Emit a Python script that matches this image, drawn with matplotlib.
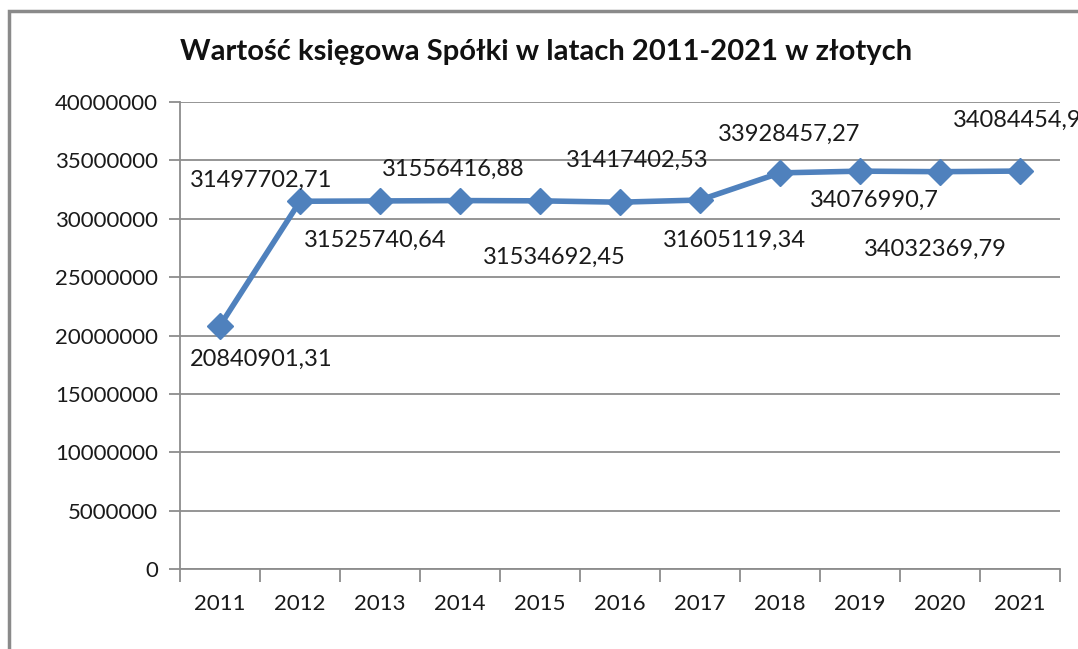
import matplotlib.pyplot as plt
from matplotlib.patches import Rectangle
from matplotlib.ticker import FixedLocator, NullFormatter, FixedFormatter

years = ["2011", "2012", "2013", "2014", "2015", "2016",
         "2017", "2018", "2019", "2020", "2021"]
values = [20840901.31, 31497702.71, 31525740.64, 31556416.88, 31534692.45,
          31417402.53, 31605119.34, 33928457.27, 34076990.7, 34032369.79,
          34084454.9]
labels = ["20840901,31", "31497702,71", "31525740,64", "31556416,88",
          "31534692,45", "31417402,53", "31605119,34", "33928457,27",
          "34076990,7", "34032369,79", "34084454,9"]
# label placement relative to each point, in pixels (dx, dy)
label_offsets = [(41, -34), (-39, 21), (-5, -39), (-7, 31), (14, -57),
                 (17, 42), (34, -40), (9, 39), (14, -29), (-5, -78),
                 (-3, 51)]

plt.rcParams["font.family"] = ["Lato", "DejaVu Sans"]

fig = plt.figure(figsize=(10.78, 6.49), dpi=100)
ax = fig.add_axes([180 / 1078, 1 - 569 / 649, 880 / 1078, 467 / 649])

x = list(range(len(years)))
ax.plot(x, values, color="#4F81BD", lw=4, marker="D", ms=13,
        markeredgecolor="#4F81BD", zorder=3, clip_on=False)

for i, (v, lab) in enumerate(zip(values, labels)):
    dx, dy = label_offsets[i]
    ax.annotate(lab, (i, v), xytext=(dx, dy), textcoords="offset pixels",
                ha="center", va="center", fontsize=17, color="#1a1a1a",
                annotation_clip=False)

ax.set_ylim(0, 40000000)
ax.set_xlim(-0.5, len(years) - 0.5)
ax.set_yticks(range(0, 40000001, 5000000))
ax.set_yticklabels([str(t) for t in range(0, 40000001, 5000000)])
ax.yaxis.grid(True, color="#8c8c8c", lw=1.3)
ax.set_axisbelow(True)

ax.xaxis.set_major_locator(FixedLocator([i - 0.5 for i in range(len(years) + 1)]))
ax.xaxis.set_major_formatter(NullFormatter())
ax.xaxis.set_minor_locator(FixedLocator(x))
ax.xaxis.set_minor_formatter(FixedFormatter(years))
ax.tick_params(axis="x", which="major", length=9, width=1.3, color="#8c8c8c",
               direction="out")
ax.tick_params(axis="x", which="minor", length=0, pad=18, labelsize=16,
               labelcolor="#1a1a1a")
ax.tick_params(axis="y", length=8, width=1.3, color="#8c8c8c", pad=8,
               labelsize=16, labelcolor="#1a1a1a")

for side in ["top", "right"]:
    ax.spines[side].set_visible(False)
for side in ["left", "bottom"]:
    ax.spines[side].set_color("#8c8c8c")
    ax.spines[side].set_linewidth(1.3)

fig.text(546 / 1078, 1 - 52 / 649,
         "Wartość księgowa Spółki w latach 2011-2021 w złotych",
         ha="center", va="center", fontsize=21, fontweight="bold",
         color="#111111")

# outer chart frame, running past the right and bottom edges
fig.patches.append(Rectangle((9 / 1078, -0.05), 1.1, 1 - 11 / 649 + 0.05,
                             transform=fig.transFigure, fill=False,
                             edgecolor="#8a8a8a", lw=2.5, clip_on=False))

fig.savefig("out.png", dpi=100)
